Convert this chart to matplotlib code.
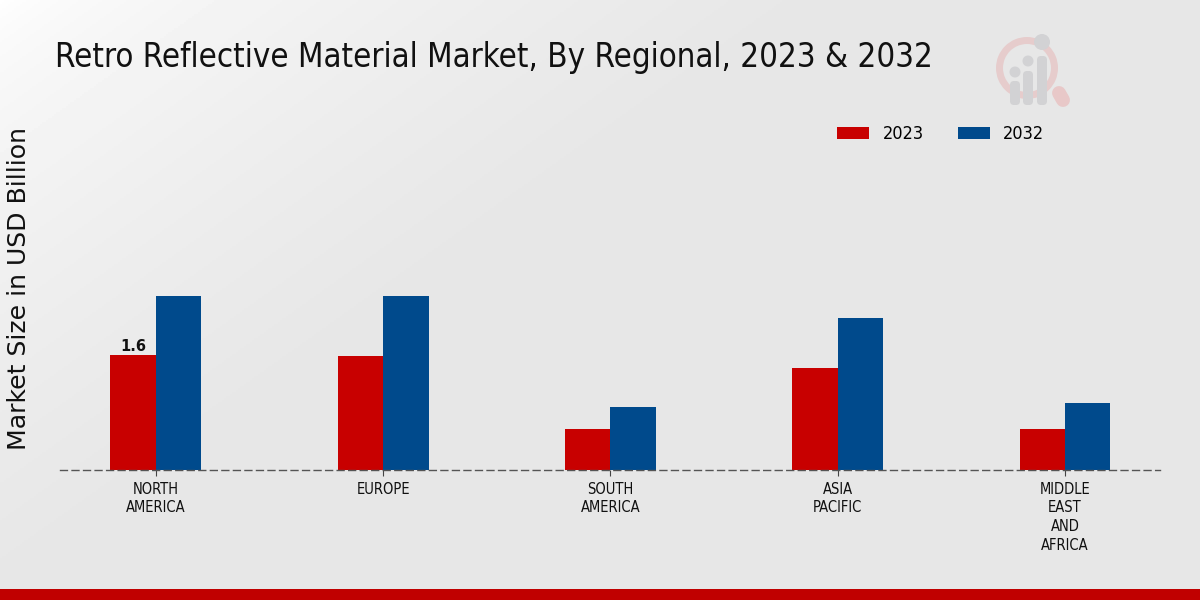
import numpy as np
import matplotlib
matplotlib.use('Agg')
import matplotlib.pyplot as plt
from matplotlib.patches import Circle, FancyBboxPatch, Rectangle, Wedge

regions = ['NORTH\nAMERICA', 'EUROPE', 'SOUTH\nAMERICA', 'ASIA\nPACIFIC', 'MIDDLE\nEAST\nAND\nAFRICA']
values_2023 = [1.6, 1.58, 0.57, 1.42, 0.57]
values_2032 = [2.42, 2.42, 0.88, 2.11, 0.93]

RED = '#c80000'
BLUE = '#004a8c'

fig = plt.figure(figsize=(12, 6), dpi=100)

# background gradient, white in the top left corner
bg = fig.add_axes([0, 0, 1, 1], zorder=0)
yy, xx = np.mgrid[0:1:300j, 0:1:600j]
grad = np.clip((1200 * xx + 840 * yy) / 800, 0, 1)
shade = 1.0 - 0.095 * grad ** 0.6
bg.imshow(shade, cmap='gray', vmin=0, vmax=1, extent=[0, 1200, 600, 0], aspect='auto')
bg.set_xlim(0, 1200)
bg.set_ylim(600, 0)
bg.axis('off')

# red strip at the bottom
bg.add_patch(Rectangle((0, 589), 1200, 11, color='#c00000', lw=0))

# watermark logo
bg.add_patch(Wedge((1027, 68), 31, 0, 360, width=7, color='#e6cccc', lw=0))
bg.plot([1059, 1063], [93, 100], color='#e8c8c8', lw=10, solid_capstyle='round')
for cx, cy, r, top in [(1015, 72, 5.5, 81), (1028, 61, 5.5, 71), (1042, 42, 8, 56)]:
    bg.add_patch(Circle((cx, cy), r, color='#d2d2d4', lw=0))
    bg.add_patch(FancyBboxPatch((cx - 5, top), 10, 105 - top, boxstyle='round,pad=0,rounding_size=4',
                                color='#d2d2d4', lw=0))

ax = fig.add_axes([60 / 1200, (600 - 470) / 600, 1100 / 1200, 370 / 600], zorder=1)
ax.patch.set_alpha(0)

x = np.arange(len(regions))
w = 0.2
ax.bar(x - w / 2, values_2023, w, color=RED, label='2023')
ax.bar(x + w / 2, values_2032, w, color=BLUE, label='2032')

ax.set_xlim(-0.422, 4.418)
ax.set_ylim(0, 370 / 71.9)
ax.set_xticks(x)
ax.set_xticklabels(regions, fontsize=10.5, stretch='condensed', color='#111111', linespacing=1.3)
ax.tick_params(axis='x', length=4, width=0.8, color='#444444', pad=4.5)
ax.set_yticks([])
for s in ['top', 'right', 'left']:
    ax.spines[s].set_visible(False)
ax.spines['bottom'].set_linestyle((0, (5, 3.3)))
ax.spines['bottom'].set_color('#555555')
ax.spines['bottom'].set_linewidth(1.0)

ax.text(x[0] - w / 2, values_2023[0] + 0.01, '1.6', ha='center', va='bottom', fontsize=10.5, fontweight='bold', color='#111111')

fig.text(55 / 1200, 1 - 58 / 600, 'Retro Reflective Material Market, By Regional, 2023 & 2032',
         fontsize=23.65, stretch='condensed', color='#111111', va='center', ha='left')
fig.text(19 / 1200, 1 - 288 / 600, 'Market Size in USD Billion', fontsize=18.1, rotation=90,
         color='#111111', va='center', ha='center')

leg = ax.legend(loc='upper left', bbox_to_anchor=((821 - 60) / 1100, (470 - 109) / 370), ncol=2, frameon=False,
                handlelength=1.78, handleheight=0.72, columnspacing=1.9, handletextpad=0.72,
                prop={'size': 13, 'stretch': 'condensed'})

fig.savefig('out.png', dpi=100)
